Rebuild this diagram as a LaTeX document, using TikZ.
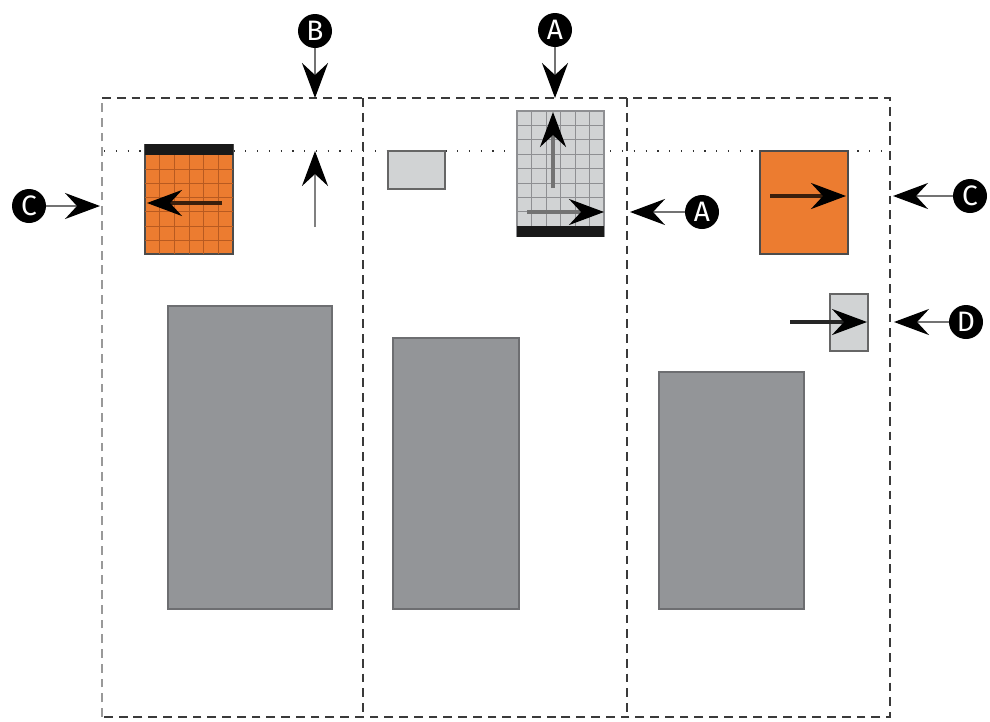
\documentclass[tikz,border=0pt]{standalone}
\usepackage{fontspec}
\setsansfont{Fira Sans}
\usetikzlibrary{arrows.meta,fit}
\definecolor{orng}{HTML}{EC7C30}
\definecolor{orngline}{HTML}{B85A20}
\definecolor{lgray}{HTML}{D1D3D4}
\definecolor{lgrayline}{HTML}{8E8F92}
\definecolor{dgray}{HTML}{939598}
\definecolor{dgrayline}{HTML}{6D6E71}
\definecolor{frame}{HTML}{3A3A3A}
\begin{document}
\begin{tikzpicture}[x=0.02cm,y=-0.02cm,
  framel/.style={draw=frame,line width=0.7pt,dash pattern=on 5pt off 3.4pt},
  framelight/.style={draw=black!40,line width=0.6pt,dash pattern=on 5pt off 3.4pt},
  dotl/.style={draw=black!80,line width=0.7pt,dash pattern=on 0.7pt off 6pt},
  bigbox/.style={fill=dgray,draw=dgrayline,line width=0.8pt,inner sep=0pt},
  orbox/.style={fill=orng,draw=black!70,line width=0.6pt,inner sep=0pt},
  lgbox/.style={fill=lgray,draw=black!60,line width=0.8pt,inner sep=0pt},
  lbl/.style={circle,fill=black,text=white,inner sep=0pt,minimum size=0.68cm,font=\sffamily\fontsize{16}{16}\selectfont},
  tip/.style={-{Stealth[black,length=0.7cm,width=0.52cm,inset=0.24cm]}},
  arr/.style={line width=1.4pt,draw=black!55,tip},
  inarr/.style={line width=1.8pt,draw=black!70,tip},
  garr/.style={line width=1.6pt,draw=black!50,tip}
]
\useasboundingbox (0,0) rectangle (990,721);

% frame columns
\draw[framelight] (102,717) -- (102,98);
\draw[framel] (102,98) -- (890,98) -- (890,717) -- (102,717);
\draw[framel] (363,98) -- (363,717);
\draw[framel] (627,98) -- (627,717);
% dotted line
\draw[dotl] (104,151) -- (888,151);

% big gray boxes
\node[bigbox,fit={(168,306)(332,609)}] (g1) {};
\node[bigbox,fit={(393,338)(519,609)}] (g2) {};
\node[bigbox,fit={(659,372)(804,609)}] (g3) {};

% left orange grid box
\node[orbox,fit={(145,145)(233,254)}] (o1) {};
\foreach \yy in {169.2,183.4,197.6,211.8,226,240.2} \draw[orngline,line width=0.5pt] (145,\yy) -- (233,\yy);
\foreach \xx in {159.67,174.33,189,203.67,218.33} \draw[orngline,line width=0.5pt] (\xx,155) -- (\xx,254);
\draw[black!70,line width=0.6pt] (o1.north west) rectangle (o1.south east);
\fill[black!90] (145,144) rectangle (233,155);
\coordinate (o1s) at (222,203);
\coordinate (o1e) at (147,203);
\draw[inarr,draw=black!75!orng] (o1s) -- (o1e);

% upward gray arrow
\coordinate (ups) at (315,227);
\coordinate (upe) at (315,151);
\draw[garr] (ups) -- (upe);

% small light gray rect
\node[lgbox,fit={(388,151)(445,189)}] (s1) {};

% light gray grid box
\node[lgbox,draw=lgrayline,fit={(517,111)(604,236)}] (lg) {};
\foreach \xx in {531.5,546,560.5,575,589.5} \draw[lgrayline,line width=0.5pt] (\xx,111) -- (\xx,226);
\foreach \yy in {125.4,139.8,154.2,168.6,183,197.4,211.8} \draw[lgrayline,line width=0.5pt] (517,\yy) -- (604,\yy);
\fill[black!90] (517,226) rectangle (604,237);
\coordinate (lgus) at (553,188);
\coordinate (lgue) at (553,112);
\draw[inarr,draw=black!55] (lgus) -- (lgue);
\coordinate (lgrs) at (527,212);
\coordinate (lgre) at (604,212);
\draw[inarr,draw=black!55] (lgrs) -- (lgre);

% right orange box
\node[orbox,fit={(760,151)(848,254)}] (o2) {};
\coordinate (o2s) at (770,196);
\coordinate (o2e) at (846,196);
\draw[inarr,draw=black!75!orng] (o2s) -- (o2e);

% D small box
\node[lgbox,fit={(830,294)(868,351)}] (d1) {};
\coordinate (d1s) at (790,322);
\coordinate (d1e) at (867,322);
\draw[inarr,draw=black!85] (d1s) -- (d1e);

% labels
\node[lbl] (lb) at (315,31) {B};
\coordinate (lbe) at (315,98);
\draw[arr] (lb) -- (lbe);

\node[lbl] (la1) at (555,30) {A};
\coordinate (la1e) at (555,98);
\draw[arr] (la1) -- (la1e);

\node[lbl] (la2) at (702,212) {A};
\coordinate (la2e) at (630,212);
\draw[arr] (la2) -- (la2e);

\node[lbl] (lc1) at (29,206) {C};
\coordinate (lc1e) at (100,206);
\draw[arr] (lc1) -- (lc1e);

\node[lbl] (lc2) at (970,196) {C};
\coordinate (lc2e) at (893,196);
\draw[arr] (lc2) -- (lc2e);

\node[lbl] (ld) at (966,322) {D};
\coordinate (lde) at (894,322);
\draw[arr] (ld) -- (lde);
\end{tikzpicture}
\end{document}
